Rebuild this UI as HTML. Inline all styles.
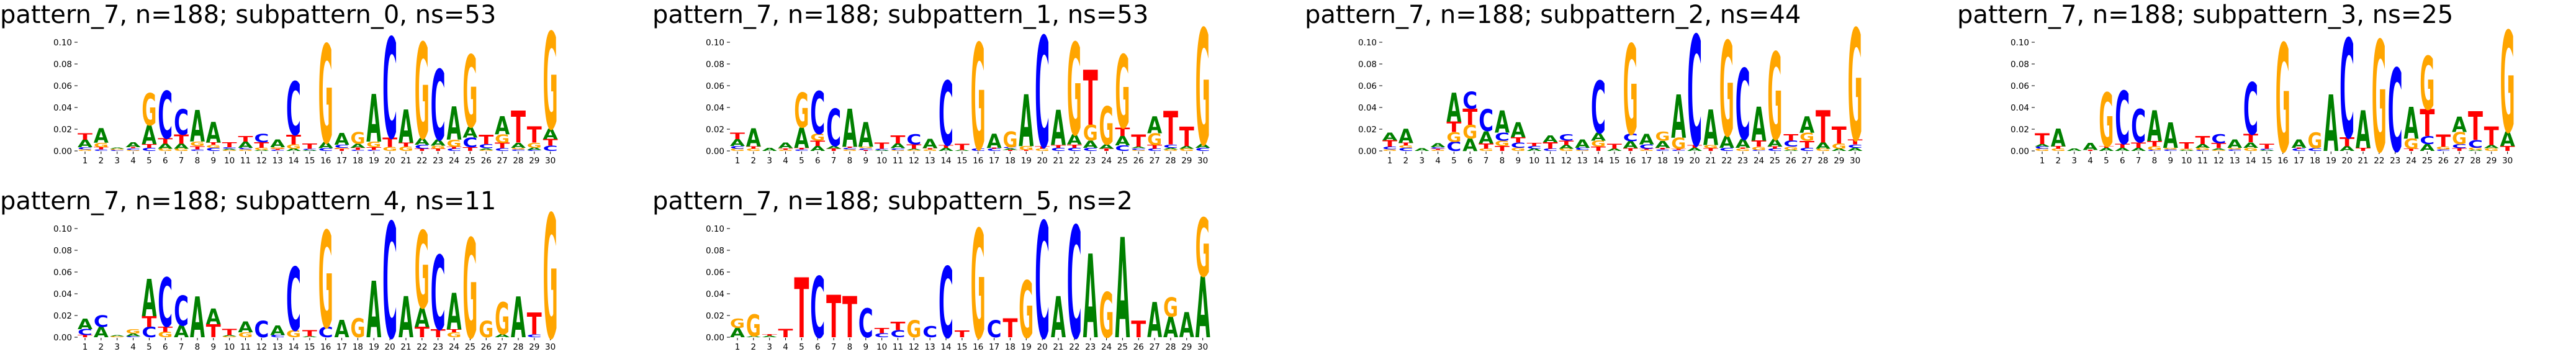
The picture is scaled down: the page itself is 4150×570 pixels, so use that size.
<!DOCTYPE html>
<html><head><meta charset="utf-8">
<style>
html,body{margin:0;padding:0;background:#fff;width:4150px;height:570px;overflow:hidden;}
svg{display:block;overflow:hidden;font-family:"DejaVu Sans","Liberation Sans",sans-serif;}
</style></head>
<body>
<svg id="chart" width="4150" height="570" viewBox="0 0 4150 570" xmlns="http://www.w3.org/2000/svg"></svg>
<script>
const positions = Array.from({length:30},(_,i)=>i+1);
const yTicks = [0,0.02,0.04,0.06,0.08,0.10];
const yTickLabels = ["0.00","0.02","0.04","0.06","0.08","0.10"];
const titles = [
 "pattern_7, n=188; subpattern_0, ns=53",
 "pattern_7, n=188; subpattern_1, ns=53",
 "pattern_7, n=188; subpattern_2, ns=44",
 "pattern_7, n=188; subpattern_3, ns=25",
 "pattern_7, n=188; subpattern_4, ns=11",
 "pattern_7, n=188; subpattern_5, ns=2"
];
const panel0 = [
 [['G',.0015],['C',.0019],['A',.007],['T',.006]],
 [['C',.0015],['T',.002],['G',.004],['A',.0134]],
 [['C',.001],['G',.001],['A',.0012]],
 [['G',.001],['C',.0015],['T',.001],['A',.0045]],
 [['C',.003],['T',.0033],['A',.0175],['G',.0295]],
 [['G',.002],['A',.0047],['T',.0051],['C',.0434]],
 [['G',.002],['A',.0047],['T',.0085],['C',.0235]],
 [['C',.0015],['T',.003],['G',.004],['A',.029]],
 [['C',.003],['G',.0027],['T',.002],['A',.019]],
 [['G',.001],['A',.001],['C',.0015],['T',.0045]],
 [['G',.0015],['C',.0015],['A',.0056],['T',.0053]],
 [['A',.001],['G',.002],['T',.005],['C',.0076]],
 [['C',.001],['T',.001],['G',.0015],['A',.007]],
 [['A',.002],['G',.004],['T',.009],['C',.049]],
 [['A',.001],['C',.001],['T',.0047]],
 [['C',.0025],['A',.0055],['G',.0905]],
 [['T',.002],['G',.001],['C',.0028],['A',.0108]],
 [['C',.001],['T',.002],['A',.0037],['G',.0108]],
 [['C',.001],['T',.0024],['G',.0052],['A',.0438]],
 [['G',.0038],['T',.0086],['C',.0924]],
 [['G',.004],['T',.0036],['A',.0305]],
 [['T',.002],['C',.0037],['A',.0063],['G',.088]],
 [['T',.002],['G',.0028],['A',.0057],['C',.0647]],
 [['C',.002],['T',.0018],['G',.0067],['A',.0305]],
 [['T',.0034],['C',.009],['A',.0099],['G',.0663]],
 [['G',.001],['A',.0015],['C',.0037],['T',.0086]],
 [['C',.0025],['T',.005],['G',.0076],['A',.0166]],
 [['C',.0015],['G',.0015],['A',.0046],['T',.0295]],
 [['C',.001],['A',.002],['G',.0046],['T',.0149]],
 [['C',.0048],['T',.0062],['A',.0098],['G',.089]]
];
const panel1 = [
 [['G',.002],['C',.0025],['A',.0063],['T',.006]],
 [['G',.002],['T',.002],['A',.0166]],
 [['A',.003]],
 [['G',.001],['T',.0015],['A',.0053]],
 [['C',.0015],['T',.0015],['A',.0186],['G',.032]],
 [['A',.0045],['T',.0049],['G',.0065],['C',.0392]],
 [['T',.002],['A',.0025],['C',.0343]],
 [['G',.0015],['C',.0015],['T',.001],['A',.0348]],
 [['T',.001],['C',.0015],['G',.0015],['A',.0225]],
 [['A',.001],['C',.001],['T',.0055]],
 [['G',.001],['C',.0015],['A',.0044],['T',.0074]],
 [['G',.001],['A',.001],['T',.0039],['C',.0094]],
 [['G',.0015],['T',.001],['A',.0085]],
 [['A',.003],['T',.0025],['C',.0592]],
 [['A',.001],['T',.0055]],
 [['C',.002],['G',.0976]],
 [['C',.002],['T',.001],['A',.0129]],
 [['T',.001],['A',.0015],['C',.001],['G',.0143]],
 [['T',.001],['G',.0035],['A',.0477]],
 [['G',.002],['T',.002],['C',.102]],
 [['C',.003],['T',.0025],['A',.0323]],
 [['C',.003],['T',.0029],['A',.0094],['G',.0847]],
 [['C',.003],['A',.0068],['G',.0143],['T',.0506]],
 [['T',.002],['A',.0039],['G',.0349]],
 [['C',.0051],['A',.0086],['T',.0079],['G',.0672]],
 [['G',.001],['C',.0015],['A',.0015],['T',.0113]],
 [['C',.002],['T',.0035],['G',.0108],['A',.0157]],
 [['G',.0015],['A',.0015],['C',.0029],['T',.031]],
 [['G',.002],['A',.0025],['T',.0177]],
 [['C',.003],['A',.0035],['G',.1065]]
];
const panel2 = [
 [['G',.0015],['C',.0025],['T',.0058],['A',.0071]],
 [['C',.003],['G',.0021],['T',.0024],['A',.0131]],
 [['A',.0025]],
 [['G',.001],['T',.001],['C',.0015],['A',.0035]],
 [['C',.0084],['G',.0089],['T',.0097],['A',.0269]],
 [['A',.0114],['G',.0127],['T',.0147],['C',.0157]],
 [['G',.002],['T',.0049],['A',.0113],['C',.0202]],
 [['T',.0045],['G',.0049],['C',.0075],['A',.0206]],
 [['G',.003],['C',.0048],['T',.0049],['A',.0138]],
 [['A',.002],['C',.0025],['T',.003]],
 [['C',.002],['T',.006],['A',.0063]],
 [['G',.002],['A',.0035],['T',.0039],['C',.0059]],
 [['G',.001],['C',.002],['A',.0078]],
 [['T',.004],['G',.0054],['A',.0073],['C',.048]],
 [['A',.002],['T',.0045]],
 [['T',.0025],['A',.0065],['C',.0069],['G',.0827]],
 [['G',.001],['T',.001],['C',.0039],['A',.0098]],
 [['C',.0015],['T',.0015],['A',.0064],['G',.0082]],
 [['C',.001],['T',.001],['G',.0104],['A',.0398]],
 [['A',.003],['T',.0025],['C',.1015]],
 [['T',.0025],['G',.003],['A',.0327]],
 [['C',.003],['A',.0113],['G',.0873]],
 [['G',.002],['T',.001],['A',.008],['C',.0651]],
 [['C',.001],['G',.003],['T',.0054],['A',.0314]],
 [['C',.002],['T',.002],['A',.007],['G',.0802]],
 [['A',.001],['G',.003],['C',.0054],['T',.0059]],
 [['C',.003],['T',.0064],['G',.0073],['A',.0153]],
 [['G',.002],['A',.0058],['T',.0297]],
 [['A',.002],['G',.0049],['T',.0156]],
 [['A',.003],['C',.0029],['T',.0045],['G',.1026]]
];
const panel3 = [
 [['G',.002],['C',.002],['A',.0023],['T',.01]],
 [['G',.002],['T',.0024],['A',.0163]],
 [['A',.002]],
 [['T',.001],['A',.0067]],
 [['A',.003],['T',.0014],['G',.0496]],
 [['A',.003],['T',.0037],['C',.0486]],
 [['A',.003],['T',.0049],['C',.0305]],
 [['C',.001],['G',.0034],['T',.0048],['A',.0282]],
 [['C',.0015],['G',.0015],['A',.0235]],
 [['A',.001],['G',.001],['T',.0059]],
 [['C',.001],['G',.002],['A',.0033],['T',.0073]],
 [['G',.001],['A',.0015],['T',.0047],['C',.0081]],
 [['C',.0015],['G',.0015],['A',.0077]],
 [['G',.003],['A',.0049],['T',.0076],['C',.0478]],
 [['A',.001],['C',.001],['T',.0043]],
 [['G',.0994]],
 [['C',.002],['T',.001],['A',.0077]],
 [['C',.0025],['G',.0144]],
 [['A',.052]],
 [['A',.0044],['T',.0083],['C',.0911]],
 [['T',.003],['A',.0346]],
 [['G',.1023]],
 [['C',.0764]],
 [['T',.002],['G',.0091],['A',.0294]],
 [['A',.0063],['C',.0073],['T',.0248],['G',.0491]],
 [['C',.0015],['G',.0025],['T',.011]],
 [['T',.0025],['C',.0038],['G',.0112],['A',.0142]],
 [['A',.001],['G',.002],['C',.0072],['T',.0265]],
 [['G',.0025],['A',.0029],['T',.0169]],
 [['T',.0044],['A',.0135],['G',.093]]
];
const panel4 = [
 [['T',.002],['C',.0055],['A',.0095]],
 [['A',.0095],['C',.0109]],
 [['G',.001],['A',.001]],
 [['C',.001],['A',.0025],['G',.004]],
 [['C',.0095],['T',.0099],['A',.0342]],
 [['G',.005],['T',.0049],['C',.045]],
 [['A',.011],['C',.0275]],
 [['A',.0377]],
 [['T',.0119],['A',.0144]],
 [['G',.001],['A',.001],['T',.0055]],
 [['G',.0045],['A',.0099]],
 [['C',.0154]],
 [['C',.002],['A',.0089]],
 [['G',.0065],['C',.0583]],
 [['A',.001],['T',.0055]],
 [['C',.0095],['G',.0889]],
 [['A',.0158]],
 [['G',.0174]],
 [['A',.052]],
 [['C',.1063]],
 [['A',.0381]],
 [['T',.0095],['A',.0178],['G',.0711]],
 [['T',.0075],['C',.0682]],
 [['G',.0045],['T',.003],['A',.0336]],
 [['G',.0915]],
 [['G',.0154]],
 [['A',.003],['G',.0292]],
 [['A',.0375]],
 [['C',.0025],['T',.0202]],
 [['G',.114]]
];
const panel5 = [
 [['A',.0086],['G',.0085]],
 [['A',.001],['G',.020]],
 [['A',.0015],['T',.0015]],
 [['T',.0076]],
 [['T',.0552]],
 [['C',.0562]],
 [['T',.039]],
 [['T',.038]],
 [['C',.0267]],
 [['C',.0038],['T',.0048]],
 [['C',.0067],['T',.0076]],
 [['G',.0156]],
 [['C',.0105]],
 [['C',.0653]],
 [['T',.0063]],
 [['G',.10]],
 [['C',.0156]],
 [['T',.0175]],
 [['G',.0524]],
 [['C',.107]],
 [['A',.038]],
 [['C',.103]],
 [['A',.0771]],
 [['G',.0415]],
 [['A',.0924]],
 [['T',.0152]],
 [['A',.0324]],
 [['A',.019],['G',.018]],
 [['A',.0229]],
 [['A',.0562],['G',.054]]
];
const panels = [panel0,panel1,panel2,panel3,panel4,panel5];
const colors = {A:'#008000',C:'#0000ff',G:'#ffa500',T:'#ff0000'};
const NS='http://www.w3.org/2000/svg';
const svg=document.getElementById('chart');
function mk(tag,attrs,parent){const e=document.createElementNS(NS,tag);for(const k in attrs)e.setAttribute(k,attrs[k]);(parent||svg).appendChild(e);return e;}
const COLW=1051, ROWH=300, X0=137, STEP=25.85, LW=24, Y0=243, YSCALE=1750;
panels.forEach((data,p)=>{
  const ox=(p%4)*COLW, oy=Math.floor(p/4)*ROWH;
  const g=mk('g',{});
  
  
  const xs=i=>ox+X0+(i-1)*STEP;
  const ys=v=>oy+Y0-v*YSCALE;
  const t=mk('text',{x:ox,y:oy+37,'font-size':40,fill:'#000'},g);
  
  
  t.textContent=titles[p];
  yTicks.forEach((v,k)=>{
    const l=mk('line',{x1:ox+120,x2:ox+125,y1:ys(v),y2:ys(v),stroke:'#000','stroke-width':1},g);
    
    
    const tl=mk('text',{x:ox+116,y:ys(v)+5,'font-size':13.5,'text-anchor':'end',fill:'#000'},g);
    
    
    tl.textContent=yTickLabels[k];
  });
  positions.forEach((pos,i)=>{
    const x=xs(pos);
    const l=mk('line',{x1:x,x2:x,y1:oy+Y0+1,y2:oy+Y0+5,stroke:'#000','stroke-width':1},g);
    
    
    const tl=mk('text',{x:x,y:oy+263,'font-size':13.5,'text-anchor':'middle',fill:'#000'},g);
    
    
    tl.textContent=pos;
    let cum=0;
    data[i].forEach(([ch,h])=>{
      const yb=ys(cum), hp=h*YSCALE;
      cum+=h;
      if(hp<=0)return;
      const lt=mk('text',{x:x-LW/2,y:0,'font-size':100,'font-weight':'bold',fill:colors[ch],
        textLength:LW,lengthAdjust:'spacingAndGlyphs',
        transform:'translate(0,'+yb+') scale(1,'+(hp/73)+')'},g);
      
      
      lt.textContent=ch;
    });
  });
});
</script>
</body></html>
